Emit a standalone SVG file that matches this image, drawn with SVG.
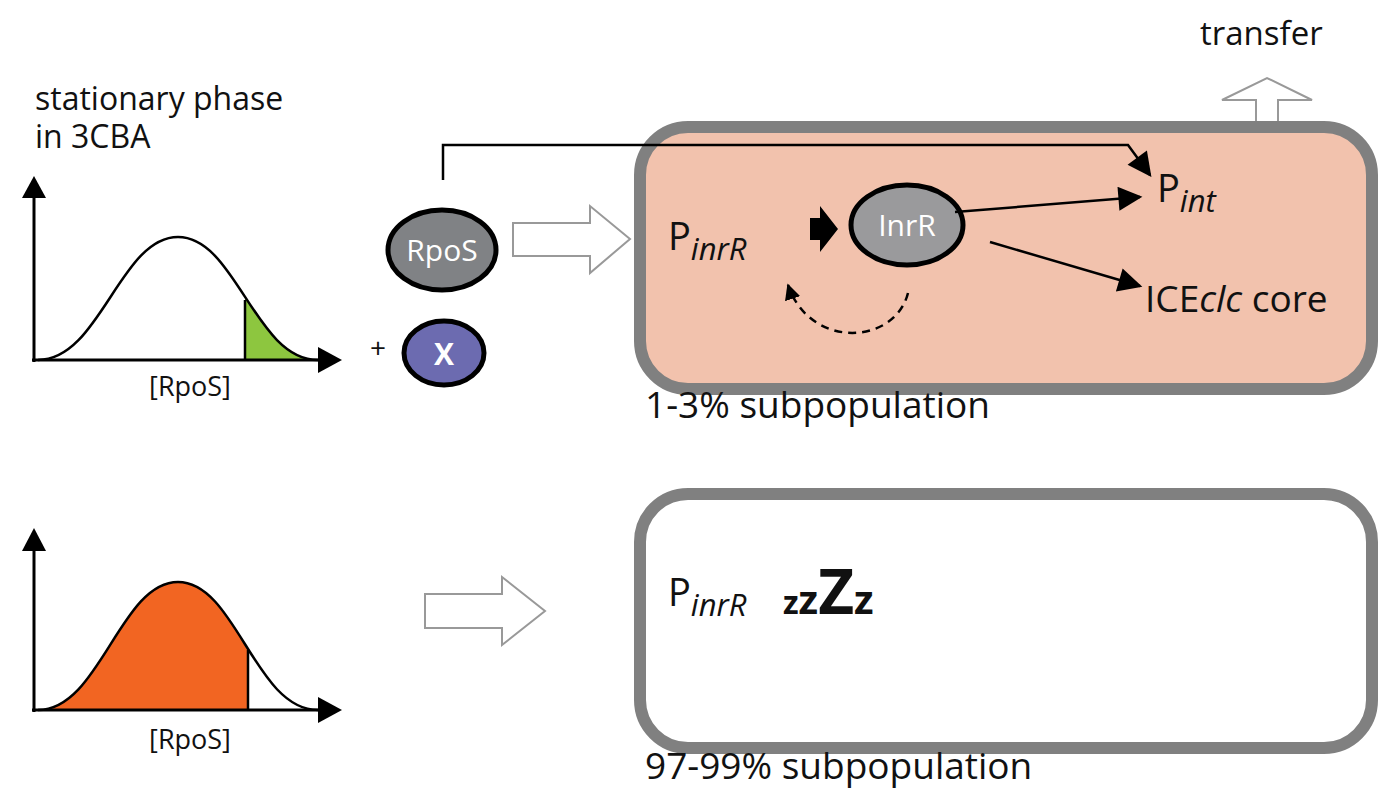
<svg xmlns="http://www.w3.org/2000/svg" width="1394" height="800" viewBox="0 0 1394 800">
<style>
text{font-family:"Open Sans","Liberation Sans",Arial,sans-serif;fill:#111}
.ax{stroke:#000;stroke-width:3;fill:none}
.ln{stroke:#000;stroke-width:2.5;fill:none}
.hol{fill:#fff;stroke:#999;stroke-width:2}
</style>
<defs>
<marker id="big" viewBox="0 0 10 10" refX="9" refY="5" markerWidth="26" markerHeight="24" markerUnits="userSpaceOnUse" orient="auto"><path d="M0,0L10,5L0,10z" fill="#000"/></marker>
<marker id="sm" viewBox="0 0 10 10" refX="9" refY="5" markerWidth="16" markerHeight="16" markerUnits="userSpaceOnUse" orient="auto"><path d="M0,0L10,5L0,10z" fill="#000"/></marker>
<clipPath id="cg"><rect x="245" y="200" width="100" height="160"/></clipPath>
<clipPath id="co"><rect x="30" y="560" width="218" height="150"/></clipPath>
</defs>
<text x="35" y="110" font-size="32">stationary phase</text>
<text x="35" y="148" font-size="32">in 3CBA</text>
<text x="1200" y="45" font-size="33">transfer</text>

<g id="graph-top">
<path d="M38,360 C100,360 120,237 178,237 C236,237 255,360 318,360 Z" fill="#8dc63f" clip-path="url(#cg)"/>
<line x1="245" y1="300" x2="245" y2="360" class="ln"/>
<path class="ln" d="M38,360 C100,360 120,237 178,237 C236,237 255,360 318,360"/>
<line class="ax" x1="34" y1="362" x2="34" y2="195"/>
<path d="M22,198 L34,176 L46,198Z"/>
<line class="ax" x1="32" y1="360" x2="322" y2="360"/>
<path d="M318,347 L342,360 L318,373Z"/>
<text x="190" y="396" font-size="27" text-anchor="middle">[RpoS]</text>
</g>

<g id="graph-bottom">
<path d="M38,710 C100,710 120,582 178,582 C236,582 255,710 318,710 Z" fill="#f26522" clip-path="url(#co)"/>
<line x1="248" y1="650" x2="248" y2="710" class="ln"/>
<path class="ln" d="M38,710 C100,710 120,582 178,582 C236,582 255,710 318,710"/>
<line class="ax" x1="34" y1="712" x2="34" y2="548"/>
<path d="M22,551 L34,528 L46,551Z"/>
<line class="ax" x1="32" y1="710" x2="322" y2="710"/>
<path d="M318,697 L342,710 L318,723Z"/>
<text x="190" y="749" font-size="27" text-anchor="middle">[RpoS]</text>
</g>

<g id="box-top">
<rect x="640" y="127" width="732" height="262" rx="48" fill="#f2c2ad" stroke="#808080" stroke-width="12"/>
</g>
<g id="box-bottom">
<rect x="640" y="494" width="732" height="254" rx="48" fill="#fff" stroke="#808080" stroke-width="12"/>
</g>

<g id="transfer-arrow"><path class="hol" d="M1256,121 L1256,100 L1222,100 L1267,78 L1312,100 L1278,100 L1278,121"/></g>

<g id="rpos"><ellipse cx="442" cy="250" rx="54" ry="40" fill="#808285" stroke="#000" stroke-width="5"/><text x="442" y="261" font-size="30" text-anchor="middle" style="fill:#fff">RpoS</text></g>
<text x="370" y="358" font-size="28">+</text>
<g id="x"><ellipse cx="444" cy="353" rx="40" ry="32" fill="#6c6bb0" stroke="#000" stroke-width="5"/><text x="444" y="365" font-size="30" font-weight="bold" text-anchor="middle" style="fill:#fff">X</text></g>

<g id="hollow-arrows">
<path class="hol" d="M513,223 L590,223 L590,206 L630,239 L590,273 L590,256 L513,256 Z"/>
<path class="hol" d="M425,594 L502,594 L502,577 L545,611 L502,645 L502,628 L425,628 Z"/>
</g>

<g id="pinrR"><text x="668" y="250" font-size="38">P<tspan font-size="31" font-style="italic" dy="10">inrR</tspan></text></g>
<g id="inrR"><ellipse cx="907" cy="225" rx="56" ry="40" fill="#9a9a9c" stroke="#000" stroke-width="5"/><text x="907" y="236" font-size="30" text-anchor="middle" style="fill:#fff">InrR</text></g>
<g id="pint"><text x="1157" y="202" font-size="38">P<tspan font-size="31" font-style="italic" dy="10">int</tspan></text></g>
<g id="iceclc"><text x="1145" y="312" font-size="37">ICE<tspan font-style="italic">clc</tspan> core</text></g>

<g id="connectors">
<path class="ln" d="M443,180 L443,145 L1128,145 L1150,175" marker-end="url(#big)"/>
<path d="M810,218 L820,218 L820,206 L838,229 L820,252 L820,240 L810,240Z"/>
<line class="ln" x1="955" y1="212" x2="1140" y2="197" marker-end="url(#big)"/>
<line class="ln" x1="990" y1="242" x2="1140" y2="286" marker-end="url(#big)"/>
<path class="ln" d="M908,293 C895,345 810,350 788,285" stroke-dasharray="8,6" marker-end="url(#sm)"/>
</g>

<text x="645" y="418" font-size="37">1-3% subpopulation</text>
<g id="pinrR-bottom"><text x="668" y="606" font-size="38">P<tspan font-size="31" font-style="italic" dy="10">inrR</tspan></text></g>
<text x="783" y="614" font-weight="bold" font-size="32">z<tspan font-size="40">z</tspan><tspan font-size="62">Z</tspan><tspan font-size="40">z</tspan></text>
<text x="645" y="779" font-size="37">97-99% subpopulation</text>
</svg>
